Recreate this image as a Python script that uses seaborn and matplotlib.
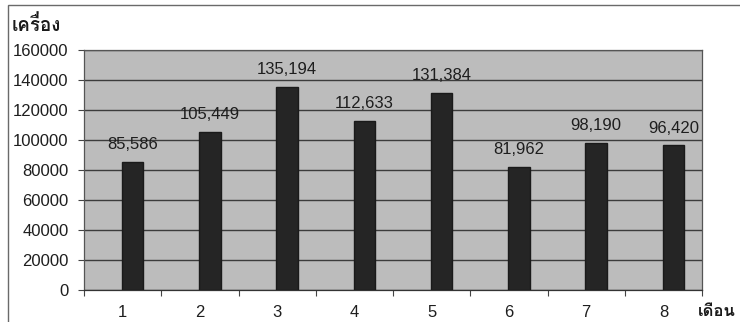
import matplotlib
matplotlib.use("Agg")
import matplotlib.pyplot as plt
from matplotlib import font_manager
from matplotlib.patches import Rectangle
from matplotlib.ticker import FixedLocator, NullFormatter
import seaborn as sns
import pandas as pd

# Monthly units
months = ["1", "2", "3", "4", "5", "6", "7", "8"]
units = [85586, 105449, 135194, 112633, 131384, 81962, 98190, 96420]
y_ticks = [0, 20000, 40000, 60000, 80000, 100000, 120000, 140000, 160000]
y_title = "เครื่อง"
x_title = "เดือน"


def thai_family():
    """Return an installed family that has Thai glyphs, or None."""
    try:
        from fontTools.ttLib import TTFont
    except ImportError:
        return None
    for entry in font_manager.fontManager.ttflist:
        try:
            font = TTFont(entry.fname, fontNumber=0, lazy=True)
            cmap = font.getBestCmap() or {}
            if 0x0E40 in cmap and 0x0E04 in cmap:
                return entry.name
        except Exception:
            continue
    return None


sns.set_theme(style="white")
plt.rcParams["font.family"] = ["Liberation Sans", "DejaVu Sans"]
thai = thai_family()
thai_fonts = [thai, "Liberation Sans", "DejaVu Sans"] if thai else ["DejaVu Sans"]

df = pd.DataFrame({"month": months, "units": units})

fig = plt.figure(figsize=(7.4, 3.22), dpi=100)
fig.patch.set_facecolor("white")

# outer chart frame
fig.add_artist(Rectangle((8 / 740, -0.02), 1.0, 1 - 5 / 322 + 0.02,
                         transform=fig.transFigure, fill=False,
                         edgecolor="#6a6a6a", linewidth=1.0))

ax = fig.add_axes([84 / 740, 1 - 290 / 322, (702 - 84) / 740, (290 - 50) / 322])
ax.set_facecolor("#bcbcbc")

sns.barplot(data=df, x="month", y="units", color="#252525", width=0.28,
            saturation=1, ax=ax, zorder=3)

# bars sit a little to the right of each category centre
BAR_SHIFT = 0.13
for p in ax.patches:
    p.set_x(p.get_x() + BAR_SHIFT)
    p.set_edgecolor("#1a1a1a")

ax.bar_label(ax.containers[0], labels=[f"{v:,}" for v in units],
             padding=7, fontsize=12, color="#1e1e1e")

ax.set_xlim(-0.5, len(months) - 0.5)
ax.set_ylim(0, 160000)
ax.set_yticks(y_ticks)
ax.set_yticklabels([str(t) for t in y_ticks])
ax.yaxis.grid(True, color="#3c3c3c", linewidth=1.0, zorder=1)
ax.set_axisbelow(True)

# category labels in slot centres, tick marks on slot boundaries
ax.xaxis.set_major_locator(FixedLocator([i - 0.5 for i in range(len(months) + 1)]))
ax.xaxis.set_major_formatter(NullFormatter())
ax.xaxis.set_minor_locator(FixedLocator(list(range(len(months)))))
ax.set_xticklabels(months, minor=True)
ax.tick_params(axis="x", which="major", direction="out", length=4, width=0.8,
               color="#444444", bottom=True)
ax.tick_params(axis="x", which="minor", length=0, pad=11, labelsize=12,
               labelcolor="#1e1e1e")
ax.tick_params(axis="y", direction="out", length=4, width=0.8, color="#444444",
               left=True, pad=7, labelsize=12, labelcolor="#1e1e1e")

ax.set_xlabel("")
ax.set_ylabel("")
for side, sp in ax.spines.items():
    sp.set_visible(True)
    sp.set_color("#555555")
    sp.set_linewidth(0.9)
ax.spines["bottom"].set_color("#333333")

fig.text(12 / 740, 1 - 25 / 322, y_title, fontsize=13.5, fontweight="bold",
         family=thai_fonts, color="#1a1a1a", ha="left", va="center")
fig.text(736 / 740, 1 - 312 / 322, x_title, fontsize=12, fontweight="bold",
         family=thai_fonts, color="#1a1a1a", ha="right", va="center")

fig.savefig("out.png", dpi=100, facecolor="white")
